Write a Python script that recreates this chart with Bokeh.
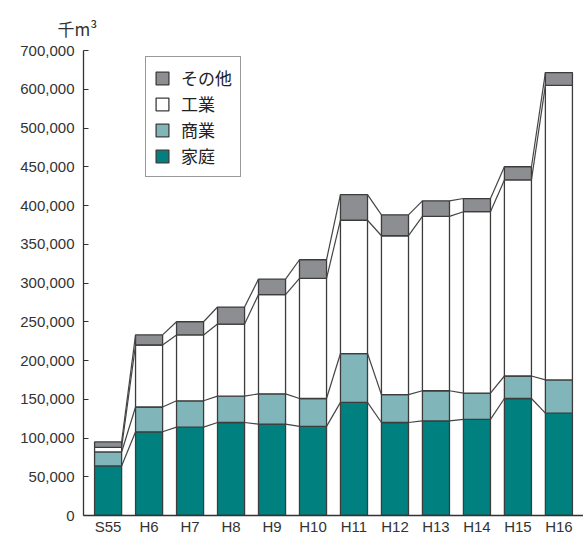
import numpy as np
from bokeh.plotting import figure
from bokeh.models import Range1d, FixedTicker, ColumnDataSource, Legend, LegendItem
from bokeh.embed import file_html
from bokeh.resources import INLINE

# ---- data (千m³) ----
categories = ["S55", "H6", "H7", "H8", "H9", "H10", "H11", "H12", "H13", "H14", "H15", "H16"]
katei  = [64000, 108000, 114000, 120000, 118000, 115000, 146000, 120000, 122000, 124000, 151000, 132000]   # 家庭
shogyo = [18000, 32000, 34000, 34000, 39000, 36000, 63000, 36000, 39000, 34000, 29000, 43000]             # 商業
kogyo  = [6000, 80000, 85000, 93000, 128000, 155000, 172000, 205000, 225000, 234000, 253000, 435000]      # 工業
sonota = [7000, 13000, 17000, 22000, 20000, 24000, 33000, 27000, 20000, 17000, 17000, 33000]              # その他
y_ticks = [0, 50000, 100000, 150000, 200000, 250000, 300000, 350000, 400000, 450000, 500000, 600000, 700000]
series_names = ["家庭", "商業", "工業", "その他"]
series_colors = ["#00807f", "#80b5b9", "#ffffff", "#8d8e92"]
unit_text = "千m³"

# the printed axis is evenly spaced between uneven tick values
tick_pos = list(range(len(y_ticks)))
def to_axis(v):
    return np.interp(np.asarray(v, dtype=float), y_ticks, tick_pos)

x = np.arange(len(categories))
bar_w = 0.66
stack = [katei, shogyo, kogyo, sonota]
cum = np.cumsum(np.array(stack, dtype=float), axis=0)
bottoms = [np.zeros(len(categories))] + [cum[i - 1] for i in range(1, 4)]

p = figure(width=583, height=537, output_backend="svg", toolbar_location=None,
           x_range=Range1d(-0.6, 11.6), y_range=Range1d(0, 12),
           min_border_left=83, min_border_right=0, min_border_top=50, min_border_bottom=19,
           title=unit_text)
p.title.text_font = "Noto Sans CJK JP"
p.title.text_font_size = "17px"
p.title.text_font_style = "normal"
p.title.text_color = "#333333"
p.title.align = "left"
p.title.vertical_align = "top"
p.title.offset = -26
p.title.standoff = 16

p.outline_line_color = None
p.xgrid.visible = False
p.ygrid.visible = False

renderers = []
for name, color, bot, top in zip(series_names, series_colors, bottoms, cum):
    src = ColumnDataSource(dict(x=x, bottom=to_axis(bot), top=to_axis(top)))
    r = p.vbar(x="x", width=bar_w, bottom="bottom", top="top", source=src,
               fill_color=color, line_color="#3c3c3c", line_width=1.3)
    renderers.append(r)

# connecting lines between bars at each cumulative level
for level in cum:
    lv = to_axis(level)
    p.segment(x0=x[:-1] + bar_w / 2, y0=lv[:-1], x1=x[1:] - bar_w / 2, y1=lv[1:],
              line_color="#444444", line_width=1.2)

# axes
p.yaxis.ticker = FixedTicker(ticks=tick_pos)
p.yaxis.major_label_overrides = {i: f"{v:,}" for i, v in zip(tick_pos, y_ticks)}
p.yaxis.major_tick_in = 5
p.yaxis.major_tick_out = 0
p.yaxis.minor_tick_line_color = None
p.yaxis.major_label_standoff = 9
p.yaxis.axis_line_color = "#333333"
p.yaxis.axis_line_width = 1.3
p.yaxis.major_tick_line_color = "#333333"
p.yaxis.major_tick_line_width = 1.2
p.yaxis.major_label_text_font = "Liberation Sans"
p.yaxis.major_label_text_font_size = "15px"
p.yaxis.major_label_text_color = "#333333"

p.xaxis.ticker = FixedTicker(ticks=list(x))
p.xaxis.major_label_overrides = {int(i): c for i, c in zip(x, categories)}
p.xaxis.major_tick_in = 0
p.xaxis.major_tick_out = 0
p.xaxis.minor_tick_line_color = None
p.xaxis.major_label_standoff = 2
p.xaxis.axis_line_color = "#333333"
p.xaxis.axis_line_width = 1.3
p.xaxis.major_label_text_font = "Liberation Sans"
p.xaxis.major_label_text_font_size = "15px"
p.xaxis.major_label_text_color = "#333333"

items = [LegendItem(label=n, renderers=[r]) for n, r in zip(series_names, renderers)][::-1]
legend = Legend(items=items, location=(62, 338))
legend.label_text_font = "Noto Sans CJK JP"
legend.label_text_font_size = "17px"
legend.label_text_color = "#222222"
legend.glyph_width = 16
legend.glyph_height = 16
legend.label_height = 20
legend.spacing = 1
legend.padding = 8
legend.margin = 0
legend.label_standoff = 11
legend.border_line_color = "#333333"
legend.border_line_width = 1.2
legend.background_fill_alpha = 1
p.add_layout(legend, "center")

open("out.html", "w").write(file_html(p, INLINE))
